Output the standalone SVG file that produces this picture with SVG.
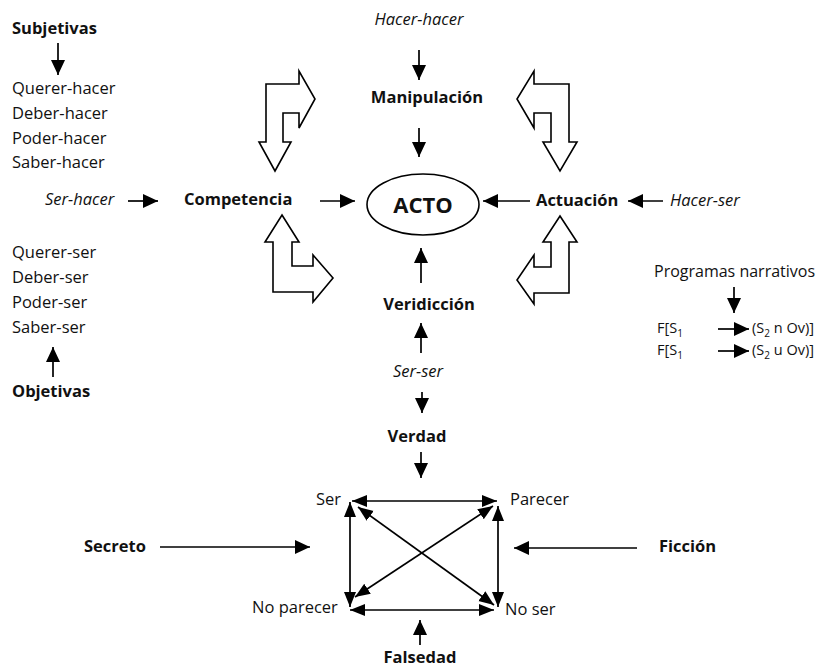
<svg xmlns="http://www.w3.org/2000/svg" width="819" height="671" viewBox="0 0 819 671">
<style>
text{font-family:"Open Sans","Noto Sans","Liberation Sans",sans-serif;font-size:16.5px;fill:#111}
.b{font-weight:bold}
.i{font-style:italic}
.m{text-anchor:middle}
.p{font-size:16px}
.f{font-size:14.5px}
.sub{font-size:10px}
.c line{stroke:#000;stroke-width:1.7}
.blk{fill:#fff;stroke:#000;stroke-width:1.6;stroke-linejoin:miter}
</style>
<defs>
<marker id="ah" markerUnits="userSpaceOnUse" markerWidth="16" markerHeight="16" viewBox="0 0 16 16" refX="15" refY="7" orient="auto-start-reverse">
<path d="M0,0 L15,7 L0,14 z" fill="#000"/>
</marker>
<marker id="sh" markerUnits="userSpaceOnUse" markerWidth="16" markerHeight="14" viewBox="0 0 16 14" refX="15" refY="6" orient="auto-start-reverse">
<path d="M0,0 L15,6 L0,12 z" fill="#000"/>
</marker>
</defs>

<g id="subjetivas"><text class="b" x="12" y="34">Subjetivas</text></g>
<g id="modal-hacer">
<text x="12" y="94">Querer-hacer</text>
<text x="12" y="119">Deber-hacer</text>
<text x="12" y="144">Poder-hacer</text>
<text x="12" y="168">Saber-hacer</text>
</g>
<g id="ser-hacer"><text class="i" x="45" y="205">Ser-hacer</text></g>
<g id="competencia"><text class="b" x="184" y="205">Competencia</text></g>
<g id="acto"><ellipse cx="423" cy="204.5" rx="56" ry="30.5" fill="#fff" stroke="#000" stroke-width="1.6"/><text class="b m" x="423" y="213" style="font-size:22px">ACTO</text></g>
<g id="actuacion"><text class="b" x="536" y="206">Actuación</text></g>
<g id="hacer-ser"><text class="i" x="670" y="206">Hacer-ser</text></g>
<g id="hacer-hacer"><text class="i m" x="419" y="25">Hacer-hacer</text></g>
<g id="manipulacion"><text class="b m" x="427" y="103">Manipulación</text></g>
<g id="veridiccion"><text class="b m" x="429" y="310">Veridicción</text></g>
<g id="ser-ser"><text class="i m" x="418" y="377">Ser-ser</text></g>
<g id="verdad"><text class="b m" x="417" y="442">Verdad</text></g>
<g id="modal-ser">
<text x="12" y="258">Querer-ser</text>
<text x="12" y="283">Deber-ser</text>
<text x="12" y="308">Poder-ser</text>
<text x="12" y="333">Saber-ser</text>
</g>
<g id="objetivas"><text class="b" x="12" y="397">Objetivas</text></g>
<g id="programas">
<text class="p" x="654" y="277">Programas narrativos</text>
<text class="f" x="657" y="333">F[S<tspan class="sub" dy="4">1</tspan></text>
<text class="f" x="752" y="333">(S<tspan class="sub" dy="4">2</tspan><tspan dy="-4"> n Ov)]</tspan></text>
<text class="f" x="657" y="355">F[S<tspan class="sub" dy="4">1</tspan></text>
<text class="f" x="752" y="355">(S<tspan class="sub" dy="4">2</tspan><tspan dy="-4"> u Ov)]</tspan></text>
</g>
<g id="ser"><text x="316" y="505">Ser</text></g>
<g id="parecer"><text x="510" y="505">Parecer</text></g>
<g id="no-parecer"><text x="252" y="613">No parecer</text></g>
<g id="no-ser"><text x="505" y="615">No ser</text></g>
<g id="secreto"><text class="b" x="84" y="552">Secreto</text></g>
<g id="ficcion"><text class="b" x="659" y="552">Ficción</text></g>
<g id="falsedad"><text class="b m" x="420" y="663">Falsedad</text></g>

<g id="block-arrows">
<polygon class="blk" points="266,84 299,84 299,71 315,99 299,128 299,113 283,113 283,142 291,142 275,171 259,142 266,142"/>
<polygon class="blk" points="534,71 534,84 569,84 569,142 577,142 560,171 543,142 551,142 551,113 534,113 534,128 517,99"/>
<polygon class="blk" points="282,215 299,242 292,242 292,266 313,266 313,255 333,278 313,302 313,292 273,292 273,242 265,242"/>
<polygon class="blk" points="560,216 577,242 569,242 569,293 534,293 534,304 517,280 534,255 534,267 551,267 551,242 543,242"/>
</g>

<g id="connectors" class="c">
<line x1="58" y1="43" x2="58" y2="75" marker-end="url(#ah)"/>
<line x1="53" y1="377" x2="53" y2="347" marker-end="url(#ah)"/>
<line x1="128" y1="201" x2="158" y2="201" marker-end="url(#ah)"/>
<line x1="320" y1="201" x2="355" y2="201" marker-end="url(#ah)"/>
<line x1="530" y1="201" x2="483" y2="201" marker-end="url(#ah)"/>
<line x1="663" y1="201" x2="628" y2="201" marker-end="url(#ah)"/>
<line x1="419" y1="50" x2="419" y2="80" marker-end="url(#ah)"/>
<line x1="419" y1="128" x2="419" y2="157" marker-end="url(#ah)"/>
<line x1="421" y1="283" x2="421" y2="248" marker-end="url(#ah)"/>
<line x1="421" y1="353" x2="421" y2="323" marker-end="url(#ah)"/>
<line x1="422" y1="392" x2="422" y2="413" marker-end="url(#ah)"/>
<line x1="421" y1="452" x2="421" y2="478" marker-end="url(#ah)"/>
<line x1="734" y1="287" x2="734" y2="313" marker-end="url(#ah)"/>
<line x1="718" y1="329" x2="749" y2="329" marker-end="url(#ah)"/>
<line x1="718" y1="351" x2="749" y2="351" marker-end="url(#ah)"/>
<line x1="160" y1="547" x2="310" y2="547" marker-end="url(#ah)"/>
<line x1="637" y1="548" x2="514" y2="548" marker-end="url(#ah)"/>
<line x1="420" y1="645" x2="420" y2="620" marker-end="url(#ah)"/>
<line x1="352" y1="501" x2="497" y2="501" marker-start="url(#sh)" marker-end="url(#sh)"/>
<line x1="350" y1="502" x2="350" y2="607" marker-start="url(#sh)" marker-end="url(#sh)"/>
<line x1="498" y1="506" x2="498" y2="607" marker-start="url(#sh)" marker-end="url(#sh)"/>
<line x1="350" y1="610" x2="494" y2="610" marker-start="url(#sh)" marker-end="url(#sh)"/>
<line x1="358" y1="507" x2="494" y2="605" marker-start="url(#sh)" marker-end="url(#sh)"/>
<line x1="493" y1="506" x2="355" y2="597" marker-start="url(#sh)" marker-end="url(#sh)"/>
</g>
</svg>
